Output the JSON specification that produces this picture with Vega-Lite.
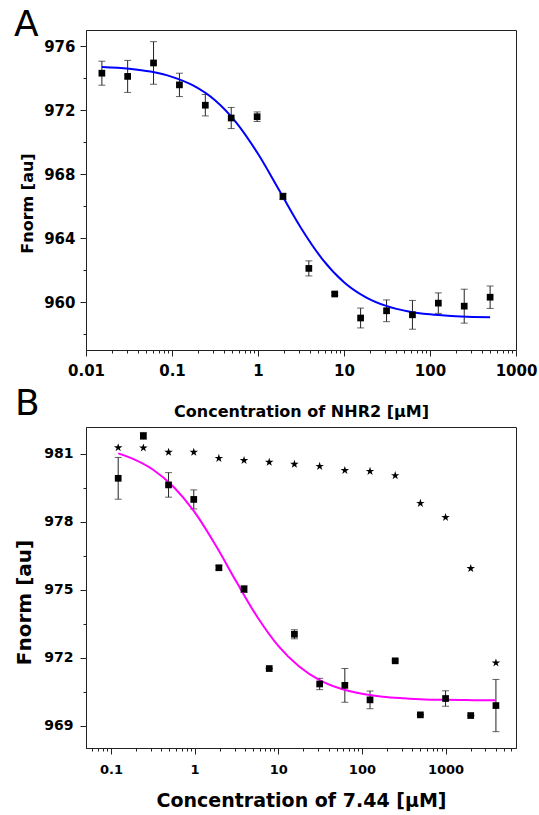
{
  "$schema": "https://vega.github.io/schema/vega-lite/v6.json",
  "padding": {"left": 13, "top": 6, "right": 5, "bottom": 5},
  "bounds": "flush",
  "spacing": 77,
  "config": {
    "font": "DejaVu Sans",
    "view": {"stroke": "#222", "strokeWidth": 1},
    "axis": {"labelFont": "DejaVu Sans", "titleFont": "DejaVu Sans", "labelFontWeight": "bold", "titleFontWeight": "bold", "labelColor": "#000", "titleColor": "#000", "domainColor": "#222", "tickColor": "#222", "grid": false}
  },
  "datasets": {
    "a_pts": [
      {"conc": 0.0153, "fnorm": 974.3, "err": 0.75},
      {"conc": 0.0305, "fnorm": 974.1, "err": 1.0},
      {"conc": 0.061, "fnorm": 974.94, "err": 1.33},
      {"conc": 0.122, "fnorm": 973.57, "err": 0.73},
      {"conc": 0.244, "fnorm": 972.3, "err": 0.67},
      {"conc": 0.488, "fnorm": 971.5, "err": 0.66},
      {"conc": 0.977, "fnorm": 971.58, "err": 0.3},
      {"conc": 1.95, "fnorm": 966.6, "err": 0.2},
      {"conc": 3.9, "fnorm": 962.1, "err": 0.47},
      {"conc": 7.8, "fnorm": 960.5, "err": 0.1},
      {"conc": 15.6, "fnorm": 959.0, "err": 0.62},
      {"conc": 31.25, "fnorm": 959.45, "err": 0.68},
      {"conc": 62.5, "fnorm": 959.2, "err": 0.9},
      {"conc": 125, "fnorm": 959.93, "err": 0.64},
      {"conc": 250, "fnorm": 959.74, "err": 1.06},
      {"conc": 500, "fnorm": 960.3, "err": 0.7}
    ],
    "a_fit": [
      {"conc": 0.0153, "fnorm": 974.69},
      {"conc": 0.03162, "fnorm": 974.58},
      {"conc": 0.05623, "fnorm": 974.4},
      {"conc": 0.1, "fnorm": 974.07},
      {"conc": 0.1778, "fnorm": 973.52},
      {"conc": 0.3162, "fnorm": 972.61},
      {"conc": 0.5623, "fnorm": 971.2},
      {"conc": 1, "fnorm": 969.26},
      {"conc": 1.778, "fnorm": 966.95},
      {"conc": 3.162, "fnorm": 964.63},
      {"conc": 5.623, "fnorm": 962.67},
      {"conc": 10, "fnorm": 961.24},
      {"conc": 17.78, "fnorm": 960.31},
      {"conc": 31.62, "fnorm": 959.74},
      {"conc": 56.23, "fnorm": 959.41},
      {"conc": 100, "fnorm": 959.23},
      {"conc": 177.8, "fnorm": 959.13},
      {"conc": 316.2, "fnorm": 959.07},
      {"conc": 500, "fnorm": 959.04}
    ],
    "b_pts": [
      {"conc": 0.122, "fnorm": 979.91, "err": 0.92},
      {"conc": 0.244, "fnorm": 981.78, "err": 0.15},
      {"conc": 0.488, "fnorm": 979.62, "err": 0.54},
      {"conc": 0.977, "fnorm": 978.98, "err": 0.42},
      {"conc": 1.95, "fnorm": 975.97, "err": 0.1},
      {"conc": 3.9, "fnorm": 975.03, "err": 0.15},
      {"conc": 7.8, "fnorm": 971.53, "err": 0},
      {"conc": 15.6, "fnorm": 973.04, "err": 0.2},
      {"conc": 31.25, "fnorm": 970.85, "err": 0.25},
      {"conc": 62.5, "fnorm": 970.79, "err": 0.74},
      {"conc": 125, "fnorm": 970.15, "err": 0.39},
      {"conc": 250, "fnorm": 971.87, "err": 0.05},
      {"conc": 500, "fnorm": 969.49, "err": 0},
      {"conc": 1000, "fnorm": 970.21, "err": 0.34},
      {"conc": 2000, "fnorm": 969.46, "err": 0},
      {"conc": 4000, "fnorm": 969.9, "err": 1.15}
    ],
    "b_stars": [
      {"conc": 0.122, "fnorm": 981.26},
      {"conc": 0.244, "fnorm": 981.25},
      {"conc": 0.488, "fnorm": 981.06},
      {"conc": 0.977, "fnorm": 981.06},
      {"conc": 1.95, "fnorm": 980.79},
      {"conc": 3.9, "fnorm": 980.7},
      {"conc": 7.8, "fnorm": 980.62},
      {"conc": 15.6, "fnorm": 980.53},
      {"conc": 31.25, "fnorm": 980.44},
      {"conc": 62.5, "fnorm": 980.26},
      {"conc": 125, "fnorm": 980.22},
      {"conc": 250, "fnorm": 980.03},
      {"conc": 500, "fnorm": 978.81},
      {"conc": 1000, "fnorm": 978.19},
      {"conc": 2000, "fnorm": 975.94},
      {"conc": 4000, "fnorm": 971.78}
    ],
    "b_fit": [
      {"conc": 0.1222, "fnorm": 981.01},
      {"conc": 0.1778, "fnorm": 980.79},
      {"conc": 0.3162, "fnorm": 980.3},
      {"conc": 0.5623, "fnorm": 979.53},
      {"conc": 1, "fnorm": 978.42},
      {"conc": 1.778, "fnorm": 976.97},
      {"conc": 3.162, "fnorm": 975.35},
      {"conc": 5.623, "fnorm": 973.8},
      {"conc": 10, "fnorm": 972.53},
      {"conc": 17.78, "fnorm": 971.62},
      {"conc": 31.62, "fnorm": 971.01},
      {"conc": 56.23, "fnorm": 970.64},
      {"conc": 100, "fnorm": 970.42},
      {"conc": 177.8, "fnorm": 970.29},
      {"conc": 316.2, "fnorm": 970.22},
      {"conc": 562.3, "fnorm": 970.17},
      {"conc": 1000, "fnorm": 970.15},
      {"conc": 1778, "fnorm": 970.14},
      {"conc": 3162, "fnorm": 970.13},
      {"conc": 4000, "fnorm": 970.13}
    ]
  },
  "vconcat": [
    {
      "width": 430,
      "height": 320,
      "title": {"text": "A", "anchor": "start", "frame": "group", "dx": -72, "dy": 42, "offset": 0, "baseline": "alphabetic", "fontSize": 36, "fontWeight": "normal", "font": "DejaVu Sans", "color": "#000"},
      "resolve": {"axis": {"x": "independent", "y": "independent"}},
      "layer": [
        {
          "encoding": {
            "x": {"field": "conc", "type": "quantitative", "scale": {"type": "log", "domain": [0.01, 1000]},
                  "axis": {"orient": "bottom", "values": [0.01, 0.1, 1, 10, 100, 1000], "format": "~g", "labelFontSize": 15, "tickSize": 6, "labelPadding": 7.5, "title": "Concentration of NHR2 [µM]", "titleFontSize": 16, "titlePadding": 25, "labelFlush": false}},
            "y": {"field": "fnorm", "type": "quantitative", "scale": {"domain": [957, 977]},
                  "axis": {"orient": "left", "values": [960, 964, 968, 972, 976], "labelFontSize": 15, "tickSize": 6, "labelPadding": 5, "title": "Fnorm [au]", "titleFontSize": 16, "titlePadding": 8, "titleY": 173}}
          },
          "layer": [
            {"data": {"name": "a_pts"}, "mark": {"type": "errorbar", "ticks": {"size": 7, "color": "#222"}, "rule": {"color": "#222", "strokeWidth": 1}}, "encoding": {"yError": {"field": "err"}}},
            {"data": {"name": "a_fit"}, "mark": {"type": "line", "color": "#0000ff", "strokeWidth": 2, "interpolate": "monotone"}},
            {"data": {"name": "a_pts"}, "mark": {"type": "square", "size": 45, "color": "#000", "opacity": 1}}
          ]
        },
        {
          "data": {"name": "a_pts"},
          "mark": {"type": "point", "opacity": 0},
          "encoding": {
            "x": {"field": "conc", "type": "quantitative", "scale": {"type": "log", "domain": [0.01, 1000]},
                  "axis": {"orient": "bottom", "values": [0.02,0.03,0.04,0.05,0.06,0.07,0.08,0.09,0.2,0.3,0.4,0.5,0.6,0.7,0.8,0.9,2,3,4,5,6,7,8,9,20,30,40,50,60,70,80,90,200,300,400,500,600,700,800,900], "labels": false, "domain": false, "tickSize": 3, "title": null}},
            "y": {"field": "fnorm", "type": "quantitative", "scale": {"domain": [957, 977]},
                  "axis": {"orient": "left", "values": [958, 962, 966, 970, 974], "labels": false, "domain": false, "tickSize": 3, "title": null}}
          }
        }
      ]
    },
    {
      "width": 430,
      "height": 321,
      "title": {"text": "B", "anchor": "start", "frame": "group", "dx": -71, "dy": 24, "offset": 0, "baseline": "alphabetic", "fontSize": 36, "fontWeight": "normal", "font": "DejaVu Sans", "color": "#000"},
      "resolve": {"axis": {"x": "independent", "y": "independent"}},
      "layer": [
        {
          "encoding": {
            "x": {"field": "conc", "type": "quantitative", "scale": {"type": "log", "domain": [0.0503, 6950]},
                  "axis": {"orient": "bottom", "values": [0.1, 1, 10, 100, 1000], "format": "~g", "labelFontSize": 13, "tickSize": 6, "labelPadding": 9, "title": "Concentration of 7.44 [µM]", "titleFontSize": 19, "titlePadding": 15, "labelFlush": false}},
            "y": {"field": "fnorm", "type": "quantitative", "scale": {"domain": [968.03, 982.17]},
                  "axis": {"orient": "left", "values": [969, 972, 975, 978, 981], "labelFontSize": 14, "tickSize": 6, "labelPadding": 7, "title": "Fnorm [au]", "titleFontSize": 20, "titlePadding": 9, "titleY": 175}}
          },
          "layer": [
            {"data": {"name": "b_pts"}, "mark": {"type": "errorbar", "ticks": {"size": 7, "color": "#222"}, "rule": {"color": "#222", "strokeWidth": 1}}, "encoding": {"yError": {"field": "err"}}},
            {"data": {"name": "b_fit"}, "mark": {"type": "line", "color": "#ff00ff", "strokeWidth": 2, "interpolate": "monotone"}},
            {"data": {"name": "b_pts"}, "mark": {"type": "square", "size": 45, "color": "#000", "opacity": 1}},
            {"data": {"name": "b_stars"}, "mark": {"type": "point", "filled": true, "color": "#000", "opacity": 1, "size": 80, "shape": "M0,-1L0.2245,-0.309L0.951,-0.309L0.363,0.118L0.588,0.809L0,0.382L-0.588,0.809L-0.363,0.118L-0.951,-0.309L-0.2245,-0.309Z"}}
          ]
        },
        {
          "data": {"name": "b_pts"},
          "mark": {"type": "point", "opacity": 0},
          "encoding": {
            "x": {"field": "conc", "type": "quantitative", "scale": {"type": "log", "domain": [0.0503, 6950]},
                  "axis": {"orient": "bottom", "values": [0.06,0.07,0.08,0.09,0.2,0.3,0.4,0.5,0.6,0.7,0.8,0.9,2,3,4,5,6,7,8,9,20,30,40,50,60,70,80,90,200,300,400,500,600,700,800,900,2000,3000,4000,5000,6000], "labels": false, "domain": false, "tickSize": 3, "title": null}},
            "y": {"field": "fnorm", "type": "quantitative", "scale": {"domain": [968.03, 982.17]},
                  "axis": {"orient": "left", "values": [970.5, 973.5, 976.5, 979.5], "labels": false, "domain": false, "tickSize": 3, "title": null}}
          }
        }
      ]
    }
  ]
}
